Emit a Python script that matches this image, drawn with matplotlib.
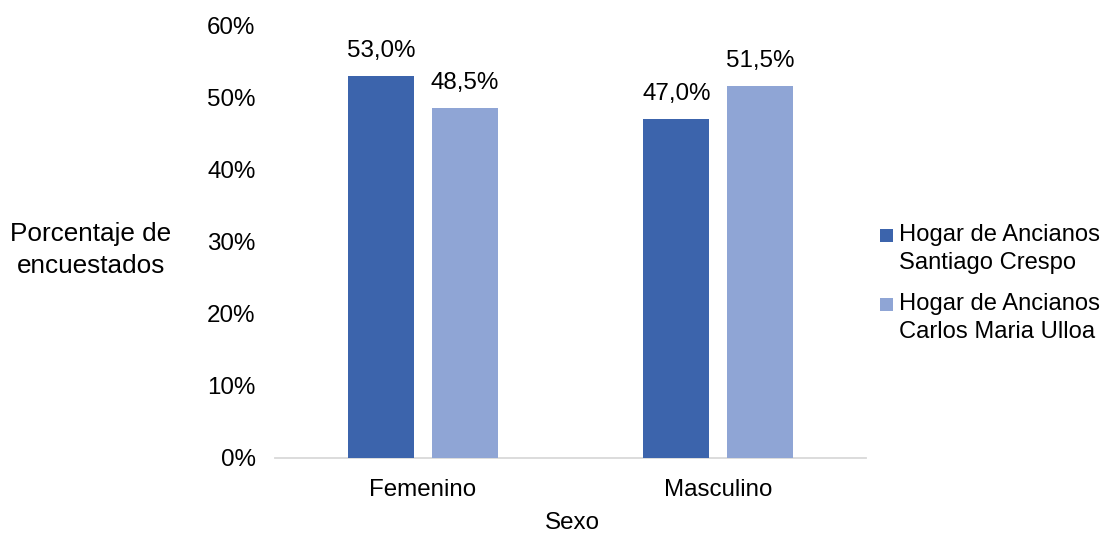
import matplotlib
matplotlib.use("Agg")
import matplotlib.pyplot as plt
from matplotlib.patches import Rectangle
import numpy as np

plt.rcParams['font.family'] = ['Liberation Sans', 'DejaVu Sans']

categories = ["Femenino", "Masculino"]
series_names = ["Hogar de Ancianos\nSantiago Crespo", "Hogar de Ancianos\nCarlos Maria Ulloa"]
santiago_crespo = [53.0, 47.0]
carlos_maria_ulloa = [48.5, 51.5]
yticks = [0, 10, 20, 30, 40, 50, 60]

colors = ["#3C64AC", "#8FA5D5"]
fs = 17.4
W, H = 1105, 533

fig = plt.figure(figsize=(W / 100, H / 100), dpi=100)
ax = fig.add_axes([275 / W, 1 - 458 / H, (866 - 275) / W, (458 - 25) / H])

x = np.arange(len(categories))
w = 0.223
gap = 0.061
offsets = [-(w + gap) / 2, (w + gap) / 2]
for vals, off, col in zip([santiago_crespo, carlos_maria_ulloa], offsets, colors):
    bars = ax.bar(x + off, vals, width=w, color=col, zorder=3)
    for b, v in zip(bars, vals):
        ax.annotate(f"{v:.1f}%".replace(".", ","), (b.get_x() + b.get_width() / 2, v),
                    xytext=(0, 10), textcoords="offset points", ha="center", va="bottom",
                    fontsize=fs, color="#000000")

ax.set_xlim(-0.5, 1.5)
ax.set_ylim(0, 60)
ax.set_yticks(yticks)
ax.set_yticklabels([f"{t}%" for t in yticks], fontsize=fs)
ax.set_xticks(x)
ax.set_xticklabels(categories, fontsize=fs)
ax.tick_params(axis="both", length=0)
ax.tick_params(axis="y", pad=14)
ax.tick_params(axis="x", pad=15)
for s in ["top", "right", "left"]:
    ax.spines[s].set_visible(False)
ax.spines["bottom"].set_color("#D9D9D9")
ax.spines["bottom"].set_linewidth(1.3)

fig.text(91 / W, 1 - 250 / H, "Porcentaje de\nencuestados", ha="center", va="center",
         fontsize=18.8, linespacing=1.45)
fig.text(572 / W, 1 - 523 / H, "Sexo", ha="center", va="center", fontsize=fs)

# Legend: square swatch aligned with the first line of each two-line label
entry_tops = [235, 304]
line_step = 28
for name, col, y0 in zip(series_names, colors, entry_tops):
    fig.patches.append(Rectangle((880 / W, 1 - (y0 + 6.5) / H), 13 / W, 13 / H,
                                 transform=fig.transFigure, facecolor=col, edgecolor="none"))
    for i, line in enumerate(name.split("\n")):
        fig.text(899 / W, 1 - (y0 + i * line_step) / H, line, ha="left", va="center",
                 fontsize=17.1)

fig.savefig("out.png", dpi=100)
